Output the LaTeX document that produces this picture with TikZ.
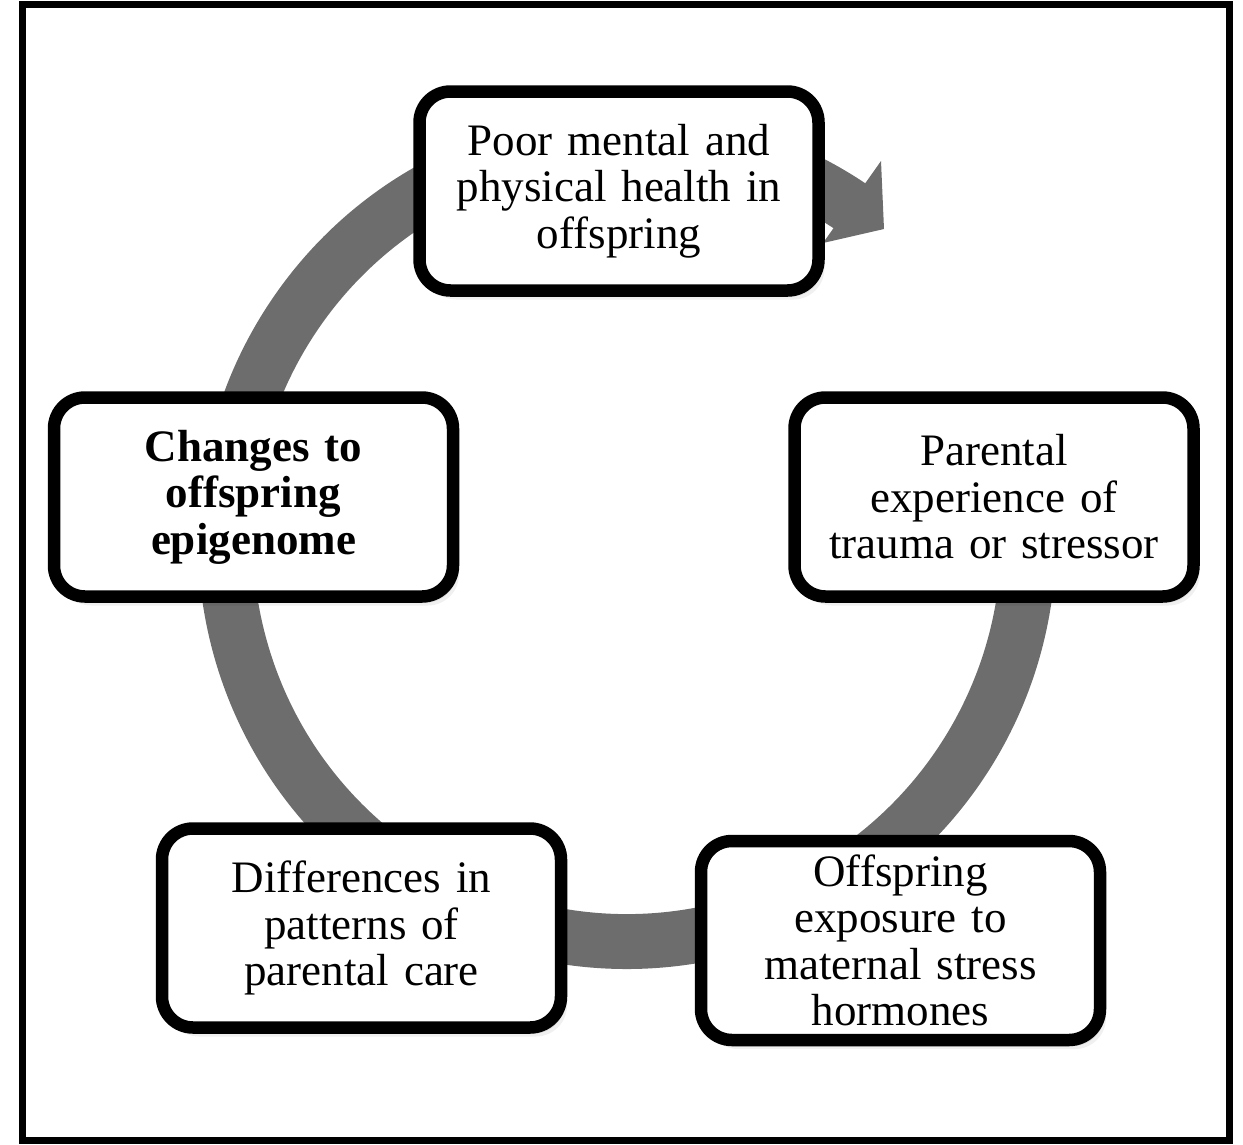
\documentclass[tikz,border=0pt]{standalone}
\usepackage{fontspec}
\setmainfont{Liberation Serif}
\usetikzlibrary{shadows,calc}
\definecolor{ringgray}{RGB}{109,109,109}
\begin{document}
\begin{tikzpicture}[x=1pt,y=-1pt,
  cyclebox/.style={draw=black, line width=12.5pt, fill=white, rounded corners=31pt,
    minimum width=399pt, minimum height=199pt, inner sep=0pt, text width=385pt,
    align=center, font=\fontsize{45}{46.5}\selectfont,
    drop shadow={shadow xshift=2pt,shadow yshift=-3pt,opacity=.10,fill=black},
    drop shadow={shadow xshift=4pt,shadow yshift=-6pt,opacity=.08,fill=black},
    drop shadow={shadow xshift=6pt,shadow yshift=-9pt,opacity=.06,fill=black}},
  ringfill/.style={fill=ringgray}]
\useasboundingbox (0,0) rectangle (1243,1144);
% outer frame
\draw[line width=7pt] (22.5,4.5) rectangle (1229.5,1140.5);
% circular arrow
\coordinate (c) at (627,540);
\fill[ringfill] ($(c)+(-15:374)$) arc[start angle=-15,end angle=305.5,radius=374]
  -- ($(c)+(305.5:429)$) arc[start angle=305.5,end angle=-15,radius=429] -- cycle;
\coordinate (hb1) at (823,243);
\coordinate (hb2) at (881,161);
\coordinate (ht) at (884,229);
\fill[ringfill] (hb1) -- (hb2) -- (ht) -- cycle;
% boxes
\node[cyclebox] (top) at (619,191) {Poor mental and\\physical health in\\offspring};
\node[cyclebox] (right) at (994,497) {Parental\\experience of\\trauma or stressor};
\node[cyclebox] (br) at (900.5,940.5) {Offspring\\exposure to\\maternal stress\\hormones};
\node[cyclebox] (bl) at (361.5,928) {Differences in\\patterns of\\parental care};
\node[cyclebox] (left) at (253.5,497) {\bfseries Changes to\\offspring\\epigenome};
\end{tikzpicture}
\end{document}
